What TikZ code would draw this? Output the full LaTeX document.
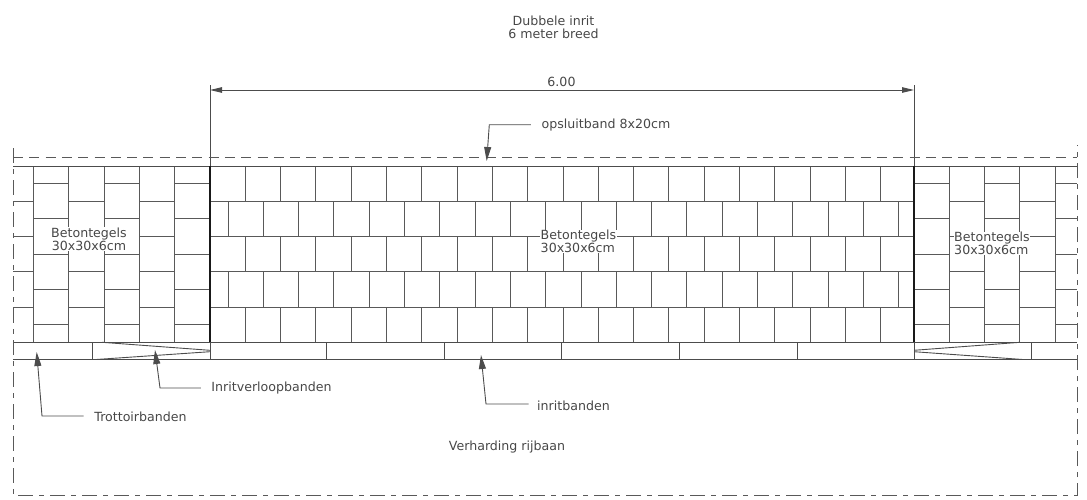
\documentclass[tikz,border=0pt]{standalone}
\usepackage{fontspec}
\setmainfont{DejaVu Sans}
\usetikzlibrary{arrows.meta}
\tikzset{
  tile/.style={draw=black!65,line width=0.9pt},
  kerb/.style={draw=black!70,line width=0.9pt},
  label/.style={text=black!72,font=\fontsize{12.6}{13}\selectfont,align=center,inner sep=0.5pt},
  masked/.style={label,fill=white},
  leader/.style={draw=black!70,line width=0.9pt,-{Triangle[length=14pt,width=7pt]}},
  bound/.style={draw=black!65,line width=1pt,dash pattern=on 15pt off 6pt on 5pt off 6pt},
  dimen/.style={draw=black!70,line width=1pt,{Triangle[length=12pt,width=5.5pt]}-{Triangle[length=12pt,width=5.5pt]}}
}
\begin{document}
\begin{tikzpicture}[x=1pt,y=-1pt]
\useasboundingbox (0,0) rectangle (1087,499);
% Footpath tiles, left and right
\foreach \x in {33.5,68.8,104.1,139.4,174.7} \draw[tile] (\x,166) -- (\x,342.3);
\foreach \x in {949.3,984.6,1019.9,1055.2} \draw[tile] (\x,166) -- (\x,342.3);
\foreach \xa/\xb in {33.5/68.8,104.1/139.4,174.7/210,914/949.3,984.6/1019.9,1055.2/1077}
  \foreach \y in {183.6,218.9,254.2,289.5,324.8} \draw[tile] (\xa,\y) -- (\xb,\y);
\foreach \xa/\xb in {13/33.5,68.8/104.1,139.4/174.7,949.3/984.6,1019.9/1055.2}
  \foreach \y in {201.3,236.6,271.9,307.2} \draw[tile] (\xa,\y) -- (\xb,\y);
% Driveway tiles
\foreach \y in {201.3,236.6,271.9,307.2} \draw[tile] (210,\y) -- (914,\y);
\foreach \i in {1,...,19} {
  \pgfmathsetmacro{\xa}{210+35.3*\i}
  \draw[tile] (\xa,166) -- (\xa,201.3);
  \draw[tile] (\xa,236.6) -- (\xa,271.9);
  \draw[tile] (\xa,307.2) -- (\xa,342.3);
}
\foreach \i in {0,...,19} {
  \pgfmathsetmacro{\xb}{228+35.3*\i}
  \draw[tile] (\xb,201.3) -- (\xb,236.6);
  \draw[tile] (\xb,271.9) -- (\xb,307.2);
}
% Kerbs
\draw[kerb] (13,166) -- (1077,166);
\draw[kerb] (13,342.3) -- (1077,342.3);
\draw[kerb] (13,359.5) -- (1077,359.5);
\foreach \x in {92.7,326.7,444,561.5,679,797,1031} \draw[kerb] (\x,342.3) -- (\x,359.5);
\draw[kerb] (102,342.3) -- (210,350.3) (96,359.5) -- (210,351.7);
\draw[kerb] (914,350.3) -- (1020,342.3) (914,351.7) -- (1023,359.5);
% Driveway edges and dimension
\draw[black!90,line width=1.5pt] (210,166) -- (210,342.3);
\draw[black!90,line width=1.5pt] (914,166) -- (914,342.3);
\draw[kerb] (210,342.3) -- (210,359.5) (914,342.3) -- (914,359.5);
\coordinate (dimL) at (210,90);
\coordinate (dimR) at (914,90);
\draw[kerb] (210,85) -- (210,166) (914,85) -- (914,166);
\draw[dimen] (dimL) -- (dimR);
% Boundaries
\draw[black!65,line width=1pt,dash pattern=on 10pt off 6.3pt] (13,157) -- (1077,157);
\draw[bound] (13,148) -- (13,495) -- (1077,495) -- (1077,145);
% Labels
\node[label] (title) at (553.5,27) {Dubbele inrit\\6 meter breed};
\node[label] (width) at (561.5,82) {6.00};
\node[label] (opsluit) at (606,125.5) {opsluitband 8x20cm};
\node[masked] (tegelL) at (89,239) {Betontegels\\30x30x6cm};
\node[masked,align=left] (tegelM) at (578.5,241.5) {Betontegels\\30x30x6cm};
\node[masked,align=left] (tegelR) at (992,243.5) {Betontegels\\30x30x6cm};
\node[label] (verloop) at (271.5,388.5) {Inritverloopbanden};
\node[label] (trottoir) at (140.5,417) {Trottoirbanden};
\node[label] (inrit) at (573.5,406) {inritbanden};
\node[label] (rijbaan) at (507,447) {Verharding rijbaan};
% Leaders
\coordinate (tipO) at (486.7,161);
\coordinate (tipV) at (155,350);
\coordinate (tipT) at (36.7,352);
\coordinate (tipI) at (481,355);
\draw[leader] (opsluit.west) ++(-10,-0.8) -- (489.3,124.7) -- (tipO);
\draw[leader] (verloop.west) ++(-10,-0.5) -- (160,388) -- (tipV);
\draw[leader] (trottoir.west) ++(-10,-1) -- (42,416) -- (tipT);
\draw[leader] (inrit.west) ++(-8,-2) -- (486,404) -- (tipI);
\end{tikzpicture}
\end{document}
